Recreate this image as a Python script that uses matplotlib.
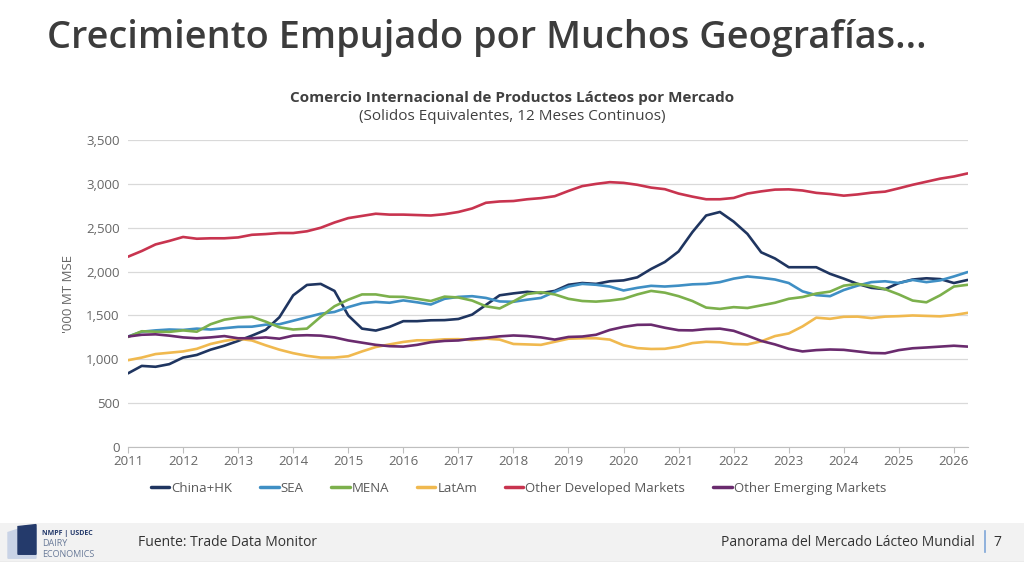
import matplotlib
matplotlib.use("Agg")
import matplotlib.pyplot as plt
import numpy as np

# ---- data (quarterly readings, '000 MT MSE) ----
start_year = 2011.0
step = 0.25

china_hk = [840, 925, 915, 945, 1020, 1050, 1110, 1155, 1210, 1270, 1335, 1480,
            1730, 1848, 1860, 1780, 1500, 1350, 1328, 1370, 1435, 1435, 1445, 1447,
            1460, 1510, 1620, 1730, 1752, 1770, 1755, 1780, 1850, 1870, 1860, 1890,
            1900, 1935, 2030, 2110, 2230, 2450, 2640, 2680, 2570, 2430, 2220, 2150,
            2050, 2050, 2050, 1975, 1920, 1860, 1815, 1800, 1870, 1910, 1924, 1915,
            1870, 1905]
sea = [1260, 1315, 1330, 1340, 1335, 1350, 1340, 1355, 1370, 1372, 1395, 1400,
       1440, 1480, 1520, 1540, 1595, 1640, 1655, 1645, 1672, 1650, 1625, 1690,
       1712, 1720, 1700, 1660, 1656, 1680, 1700, 1770, 1830, 1860, 1850, 1830,
       1785, 1815, 1838, 1830, 1840, 1855, 1860, 1880, 1920, 1945, 1930, 1910,
       1870, 1775, 1732, 1720, 1790, 1840, 1880, 1890, 1870, 1905, 1880, 1900,
       1945, 1995]
mena = [1255, 1320, 1315, 1313, 1330, 1315, 1400, 1452, 1475, 1485, 1430, 1365,
        1340, 1350, 1485, 1605, 1680, 1740, 1740, 1714, 1712, 1690, 1665, 1715,
        1705, 1670, 1605, 1580, 1660, 1745, 1765, 1740, 1690, 1665, 1658, 1670,
        1690, 1740, 1780, 1760, 1720, 1665, 1590, 1575, 1595, 1585, 1615, 1645,
        1690, 1710, 1750, 1772, 1840, 1860, 1835, 1800, 1740, 1670, 1650, 1730,
        1830, 1850]
latam = [990, 1020, 1060, 1075, 1090, 1120, 1175, 1210, 1235, 1215, 1160, 1110,
         1070, 1040, 1020, 1020, 1035, 1090, 1140, 1170, 1198, 1217, 1217, 1228,
         1230, 1220, 1236, 1225, 1175, 1170, 1165, 1200, 1235, 1240, 1240, 1225,
         1160, 1128, 1118, 1120, 1145, 1185, 1200, 1195, 1175, 1170, 1205, 1265,
         1295, 1375, 1475, 1462, 1485, 1487, 1470, 1487, 1492, 1500, 1495, 1490,
         1505, 1530]
other_dev = [2170, 2235, 2310, 2350, 2395, 2375, 2380, 2380, 2390, 2420, 2428, 2440,
             2440, 2460, 2500, 2560, 2610, 2635, 2660, 2650, 2650, 2645, 2640, 2655,
             2680, 2720, 2785, 2800, 2805, 2825, 2838, 2860, 2920, 2975, 3000, 3020,
             3012, 2990, 2958, 2940, 2890, 2855, 2825, 2825, 2840, 2890, 2915, 2935,
             2938, 2925, 2898, 2885, 2866, 2880, 2900, 2912, 2950, 2990, 3025, 3060,
             3085, 3120]
other_em = [1260, 1280, 1285, 1270, 1250, 1240, 1250, 1265, 1240, 1240, 1250, 1235,
            1270, 1275, 1270, 1250, 1215, 1190, 1165, 1150, 1145, 1165, 1195, 1210,
            1215, 1235, 1245, 1262, 1272, 1265, 1250, 1225, 1255, 1260, 1280, 1335,
            1370, 1393, 1395, 1360, 1332, 1330, 1345, 1350, 1325, 1270, 1210, 1170,
            1120, 1090, 1105, 1112, 1108, 1090, 1072, 1069, 1105, 1126, 1135, 1145,
            1155, 1145]

series_names = ["China+HK", "SEA", "MENA", "LatAm", "Other Developed Markets",
                "Other Emerging Markets"]
series_values = [china_hk, sea, mena, latam, other_dev, other_em]
colors = ["#1f3560", "#3f8fc4", "#7cb04c", "#f0b94f", "#c8344f", "#6a2b6e"]

year_ticks = list(range(2011, 2027))
y_ticks = [0, 500, 1000, 1500, 2000, 2500, 3000, 3500]

plt.rcParams['font.family'] = ['Open Sans', 'DejaVu Sans']

fig = plt.figure(figsize=(10.24, 5.65), dpi=100)
fig.patch.set_facecolor("white")

ax = fig.add_axes([0.125, 0.2088, 0.82, 0.5433])
for name, vals, c in zip(series_names, series_values, colors):
    x = start_year + step * np.arange(len(vals))
    ax.plot(x, vals, color=c, lw=1.9, label=name, solid_capstyle="round")

ax.set_xlim(2011, 2026.25)
ax.set_ylim(0, 3500)
ax.set_xticks(year_ticks)
ax.set_xticklabels([str(y) for y in year_ticks])
ax.set_yticks(y_ticks)
ax.set_yticklabels([f"{v:,}" for v in y_ticks])
ax.grid(axis="y", color="#d9d9d9", lw=0.9)
ax.set_axisbelow(True)
for s in ["top", "right", "left"]:
    ax.spines[s].set_visible(False)
ax.spines["bottom"].set_color("#bfbfbf")
ax.tick_params(axis="y", length=0, labelsize=9.5, labelcolor="#666666", pad=6)
ax.tick_params(axis="x", length=4, color="#bfbfbf", labelsize=9.5,
               labelcolor="#666666", pad=2)
ax.set_ylabel("'000 MT MSE", fontsize=9.5, color="#666666", labelpad=8)

leg = ax.legend(loc="upper center", bbox_to_anchor=(0.465, -0.075), ncol=6,
                frameon=False, fontsize=9.5, handlelength=1.4, handletextpad=0.15,
                columnspacing=2.1, labelcolor="#595959")
for line in leg.get_lines():
    line.set_linewidth(2.5)

# titles
fig.text(0.046, 0.933, "Crecimiento Empujado por Muchos Geografías...",
         fontsize=27.3, fontweight="semibold", color="#3c3c3c", va="center", ha="left")
fig.text(0.5, 0.826, "Comercio Internacional de Productos Lácteos por Mercado",
         fontsize=11, fontweight="bold", color="#404040", ha="center", va="center")
fig.text(0.5, 0.793, "(Solidos Equivalentes, 12 Meses Continuos)",
         fontsize=11, color="#404040", ha="center", va="center")

# footer band
band = fig.add_axes([0, 0.005, 1, 0.07])
band.set_xlim(0, 1024)
band.set_ylim(0, 40)
band.axis("off")
band.add_patch(plt.Rectangle((0, 0), 1024, 40, color="#f2f2f2", zorder=0))
band.axhline(0.5, color="#d0d0d0", lw=1)
# simple logo
band.add_patch(plt.Polygon([[8, 4], [8, 30], [26, 36], [36, 34], [36, 4]],
                           color="#c9d3e6", zorder=1))
band.add_patch(plt.Polygon([[18, 8], [18, 36], [36, 38], [36, 8]],
                           color="#243a6b", zorder=2))
band.text(42, 29, "NMPF | USDEC", fontsize=5, fontweight="bold", color="#243a6b", va="center")
band.text(42, 19, "DAIRY", fontsize=6.5, color="#6a7b99", va="center")
band.text(42, 8, "ECONOMICS", fontsize=6.5, color="#6a7b99", va="center")
band.text(138, 20, "Fuente: Trade Data Monitor", fontsize=10, color="#333333", va="center")
band.text(975, 20, "Panorama del Mercado Lácteo Mundial", fontsize=10, color="#333333",
          va="center", ha="right")
band.plot([985, 985], [10, 32], color="#7ea6d8", lw=1.2)
band.text(997, 20, "7", fontsize=10, color="#333333", va="center", ha="center")

fig.savefig("out.png", dpi=100, facecolor="white")
